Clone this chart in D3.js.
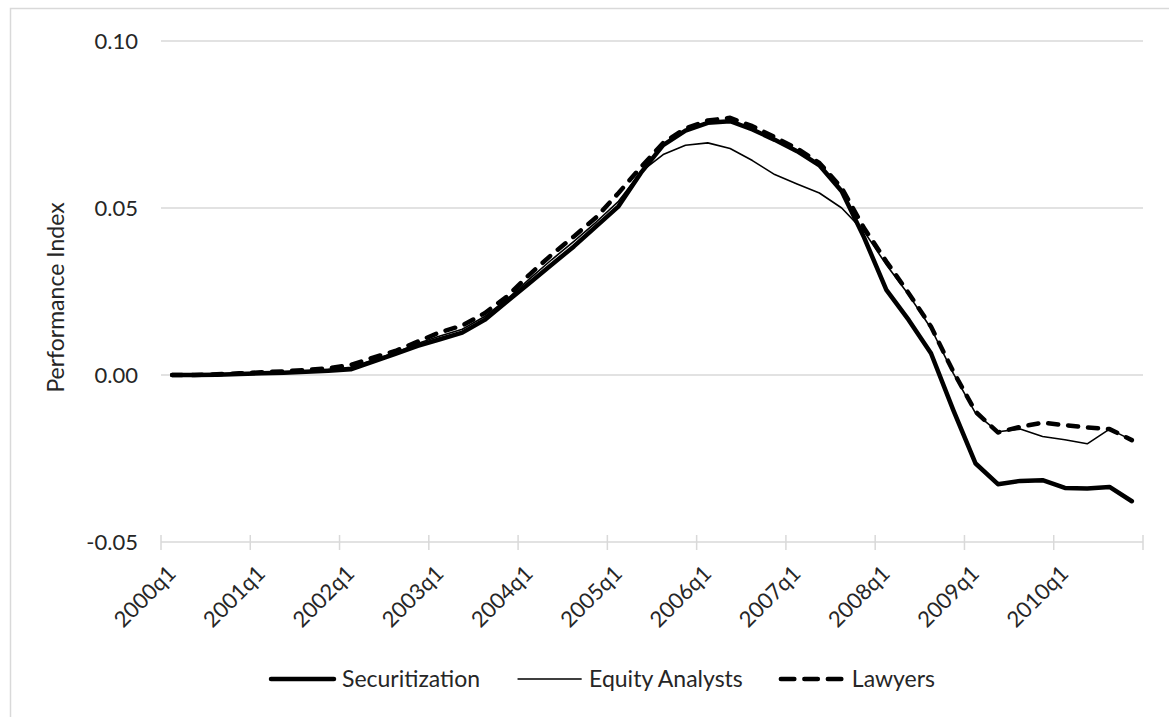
<!DOCTYPE html>
<html>
<head>
<meta charset="utf-8">
<script src="https://cdn.jsdelivr.net/npm/d3@7"></script>
<style>
  body { margin: 0; background: #fff; }
  svg text { font-family: Lato, "Open Sans", sans-serif; fill: #262626; }
</style>
</head>
<body>
<div id="chart"></div>
<script>
// quarters shown on the category axis
var quarters = [
  "2000q1", "2000q2", "2000q3", "2000q4",
  "2001q1", "2001q2", "2001q3", "2001q4",
  "2002q1", "2002q2", "2002q3", "2002q4",
  "2003q1", "2003q2", "2003q3", "2003q4",
  "2004q1", "2004q2", "2004q3", "2004q4",
  "2005q1", "2005q2", "2005q3", "2005q4",
  "2006q1", "2006q2", "2006q3", "2006q4",
  "2007q1", "2007q2", "2007q3", "2007q4",
  "2008q1", "2008q2", "2008q3", "2008q4",
  "2009q1", "2009q2", "2009q3", "2009q4",
  "2010q1", "2010q2", "2010q3", "2010q4"
];
var labelledQuarters = ["2000q1", "2001q1", "2002q1", "2003q1", "2004q1", "2005q1",
  "2006q1", "2007q1", "2008q1", "2009q1", "2010q1"];

var securitization = [
  0.0000, 0.0000, 0.0001, 0.0003, 0.0005, 0.0007, 0.0010, 0.0013,
  0.0017, 0.0040, 0.0063, 0.0087, 0.0107, 0.0127, 0.0165, 0.0220,
  0.0275, 0.0330, 0.0385, 0.0445, 0.0505, 0.0605, 0.0688, 0.0732,
  0.0755, 0.0760, 0.0735, 0.0704, 0.0670, 0.0628, 0.0550, 0.0412,
  0.0255, 0.0165, 0.0065, -0.0105, -0.0265, -0.0327, -0.0317, -0.0315,
  -0.0338, -0.0340, -0.0335, -0.0378
];
var equityAnalysts = [
  0.0000, 0.0000, 0.0001, 0.0004, 0.0006, 0.0009, 0.0012, 0.0016,
  0.0023, 0.0045, 0.0067, 0.0094, 0.0117, 0.0137, 0.0175, 0.0227,
  0.0287, 0.0345, 0.0400, 0.0458, 0.0520, 0.0608, 0.0660, 0.0688,
  0.0695, 0.0678, 0.0642, 0.0600, 0.0572, 0.0545, 0.0500, 0.0430,
  0.0330, 0.0240, 0.0140, 0.0005, -0.0115, -0.0170, -0.0162, -0.0184,
  -0.0194, -0.0206, -0.0162, -0.0195
];
var lawyers = [
  0.0000, 0.0000, 0.0002, 0.0005, 0.0008, 0.0011, 0.0015, 0.0020,
  0.0030, 0.0052, 0.0072, 0.0100, 0.0128, 0.0148, 0.0185, 0.0235,
  0.0300, 0.0360, 0.0415, 0.0472, 0.0545, 0.0622, 0.0695, 0.0738,
  0.0762, 0.0770, 0.0745, 0.0712, 0.0678, 0.0635, 0.0560, 0.0440,
  0.0340, 0.0245, 0.0145, 0.0010, -0.0110, -0.0172, -0.0155, -0.0143,
  -0.0150, -0.0157, -0.0162, -0.0195
];
var yTicks = [-0.05, 0.00, 0.05, 0.10];

var seriesList = [
  { name: "Securitization", values: securitization, width: 4.5, dash: null },
  { name: "Equity Analysts", values: equityAnalysts, width: 1.6, dash: null },
  { name: "Lawyers", values: lawyers, width: 4.5, dash: "10,10" }
];

var width = 1169, height = 717;
var plot = { left: 161, right: 1143, top: 41, bottom: 542 };

var svg = d3.select("#chart").append("svg")
  .attr("width", width)
  .attr("height", height);

// chart area border
svg.append("rect")
  .attr("x", 10.5).attr("y", 8.5)
  .attr("width", width + 20).attr("height", height + 20)
  .attr("fill", "none")
  .attr("stroke", "#d9d9d9")
  .attr("stroke-width", 1.5);

var xScale = d3.scaleBand()
  .domain(quarters)
  .range([plot.left, plot.right])
  .padding(0);
var yScale = d3.scaleLinear()
  .domain([-0.05, 0.10])
  .range([plot.bottom, plot.top]);

function cx(q) { return xScale(q) + xScale.bandwidth() / 2; }

// gridlines
svg.append("g")
  .selectAll("line")
  .data(yTicks.filter(function (t) { return t > -0.05; }))
  .enter().append("line")
  .attr("x1", plot.left).attr("x2", plot.right)
  .attr("y1", function (d) { return yScale(d); })
  .attr("y2", function (d) { return yScale(d); })
  .attr("stroke", "#d9d9d9")
  .attr("stroke-width", 1.5);

// y axis labels (plain hyphen for negatives, like the original)
var yAxis = d3.axisLeft(yScale)
  .tickValues(yTicks)
  .tickSize(0)
  .tickPadding(23)
  .tickFormat(function (d) { return d3.format(".2f")(d).replace("\u2212", "-"); });
var yg = svg.append("g")
  .attr("transform", "translate(" + plot.left + ",0)")
  .call(yAxis);
yg.select(".domain").remove();
yg.selectAll("text")
  .style("font-size", "22px")
  .attr("fill", "#262626");

// category axis with crossing tick marks between categories
var xAxisG = svg.append("g");
xAxisG.append("line")
  .attr("x1", plot.left).attr("x2", plot.right)
  .attr("y1", yScale(-0.05)).attr("y2", yScale(-0.05))
  .attr("stroke", "#d9d9d9")
  .attr("stroke-width", 1.5);
var tickPos = labelledQuarters.map(function (q) { return xScale(q); });
tickPos.push(plot.right);
xAxisG.selectAll(".tick-mark")
  .data(tickPos)
  .enter().append("line")
  .attr("class", "tick-mark")
  .attr("x1", function (d) { return d; })
  .attr("x2", function (d) { return d; })
  .attr("y1", yScale(-0.05) - 7)
  .attr("y2", yScale(-0.05) + 8)
  .attr("stroke", "#d9d9d9")
  .attr("stroke-width", 1.5);
xAxisG.selectAll(".xlabel")
  .data(labelledQuarters)
  .enter().append("text")
  .attr("class", "xlabel")
  .attr("transform", function (d) {
    return "translate(" + (cx(d) + 5) + "," + 575 + ") rotate(-45)";
  })
  .style("text-anchor", "end")
  .style("font-size", "22px")
  .text(function (d) { return d; });

// y axis title
svg.append("text")
  .attr("transform", "translate(64," + ((plot.top + plot.bottom) / 2 + 6) + ") rotate(-90)")
  .style("text-anchor", "middle")
  .style("font-size", "23px")
  .text("Performance Index");

// series lines
var line = d3.line()
  .x(function (d, i) { return cx(quarters[i]); })
  .y(function (d) { return yScale(d); });

svg.append("g")
  .selectAll("path")
  .data(seriesList)
  .enter().append("path")
  .attr("d", function (s) { return line(s.values); })
  .attr("fill", "none")
  .attr("stroke", "#000")
  .attr("stroke-width", function (s) { return s.width; })
  .attr("stroke-linejoin", "round")
  .attr("stroke-linecap", "round")
  .attr("stroke-dasharray", function (s) { return s.dash; });

// legend
var legendY = 679;
var legend = svg.append("g");
var items = legend.selectAll("g")
  .data(seriesList)
  .enter().append("g");
items.append("line")
  .attr("x1", 0).attr("x2", 63)
  .attr("y1", 0).attr("y2", 0)
  .attr("stroke", "#000")
  .attr("stroke-width", function (s) { return s.width; })
  .attr("stroke-linecap", "round")
  .attr("stroke-dasharray", function (s) { return s.dash ? "13.5,10" : null; });
items.append("text")
  .attr("x", 71)
  .attr("y", 0)
  .attr("dy", "0.35em")
  .style("font-size", "23px")
  .text(function (s) { return s.name; });

var xPos = 0;
items.each(function () {
  var g = d3.select(this);
  g.attr("transform", "translate(" + xPos + ",0)");
  xPos += 71 + g.select("text").node().getComputedTextLength() + 38;
});
var legendWidth = xPos - 38;
legend.attr("transform", "translate(" + (603 - legendWidth / 2) + "," + legendY + ")");
</script>
</body>
</html>
